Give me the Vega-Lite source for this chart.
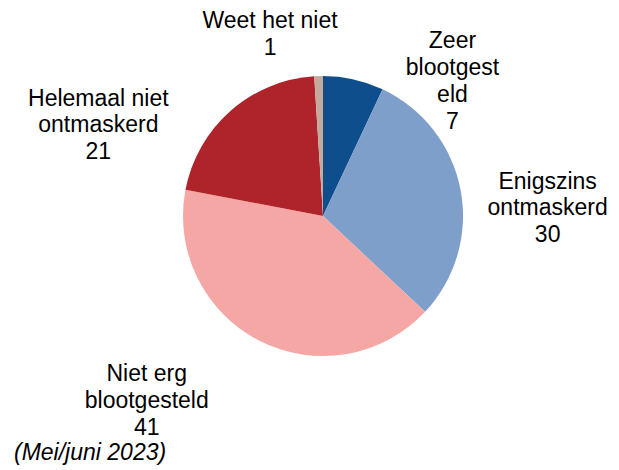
{
  "$schema": "https://vega.github.io/schema/vega-lite/v6.json",
  "width": 280,
  "height": 280,
  "autosize": {"type": "none"},
  "padding": {"left": 183, "top": 76, "right": 156, "bottom": 114},
  "background": "white",
  "config": {"view": {"stroke": null}, "text": {"font": "Liberation Sans"}},
  "title": {
    "text": "(Mei/juni 2023)",
    "orient": "bottom",
    "anchor": "start",
    "frame": "group",
    "dx": -169,
    "offset": 2,
    "font": "Liberation Sans",
    "fontSize": 23,
    "fontStyle": "italic",
    "fontWeight": "normal",
    "color": "#000000"
  },
  "data": {
    "values": [
      {"idx": 1, "category": "Zeer blootgesteld", "label": ["Zeer", "blootgest", "eld", "7"], "value": 7},
      {"idx": 2, "category": "Enigszins ontmaskerd", "label": ["Enigszins", "ontmaskerd", "30"], "value": 30},
      {"idx": 3, "category": "Niet erg blootgesteld", "label": ["Niet erg", "blootgesteld", "41"], "value": 41},
      {"idx": 4, "category": "Helemaal niet ontmaskerd", "label": ["Helemaal niet", "ontmaskerd", "21"], "value": 21},
      {"idx": 5, "category": "Weet het niet", "label": ["Weet het niet", "1"], "value": 1}
    ]
  },
  "encoding": {
    "theta": {"field": "value", "type": "quantitative", "stack": true},
    "order": {"field": "idx", "type": "quantitative"}
  },
  "layer": [
    {
      "mark": {"type": "arc", "outerRadius": 140},
      "encoding": {
        "color": {
          "field": "category",
          "type": "nominal",
          "scale": {
            "domain": ["Zeer blootgesteld", "Enigszins ontmaskerd", "Niet erg blootgesteld", "Helemaal niet ontmaskerd", "Weet het niet"],
            "range": ["#0e4e8c", "#7f9fcb", "#f4a7a4", "#ae242a", "#c4aa9c"]
          },
          "legend": null
        }
      }
    },
    {
      "mark": {"type": "text", "radius": 190, "dx": 88, "dy": 10.5, "fontSize": 23, "lineHeight": 27, "align": "center", "baseline": "middle", "color": "#000000"},
      "encoding": {"text": {"condition": {"test": "datum.idx == 1", "field": "label"}, "value": ""}}
    },
    {
      "mark": {"type": "text", "radius": 190, "dx": 38, "dy": 1.5, "fontSize": 23, "lineHeight": 26.5, "align": "center", "baseline": "middle", "color": "#000000"},
      "encoding": {"text": {"condition": {"test": "datum.idx == 2", "field": "label"}, "value": ""}}
    },
    {
      "mark": {"type": "text", "radius": 190, "dx": -90, "dy": -11, "fontSize": 23, "lineHeight": 27, "align": "center", "baseline": "middle", "color": "#000000"},
      "encoding": {"text": {"condition": {"test": "datum.idx == 3", "field": "label"}, "value": ""}}
    },
    {
      "mark": {"type": "text", "radius": 190, "dx": -99, "dy": 25.5, "fontSize": 23, "lineHeight": 26.5, "align": "center", "baseline": "middle", "color": "#000000"},
      "encoding": {"text": {"condition": {"test": "datum.idx == 4", "field": "label"}, "value": ""}}
    },
    {
      "mark": {"type": "text", "radius": 190, "dx": -47, "dy": -5, "fontSize": 23, "lineHeight": 26.5, "align": "center", "baseline": "middle", "color": "#000000"},
      "encoding": {"text": {"condition": {"test": "datum.idx == 5", "field": "label"}, "value": ""}}
    }
  ]
}
